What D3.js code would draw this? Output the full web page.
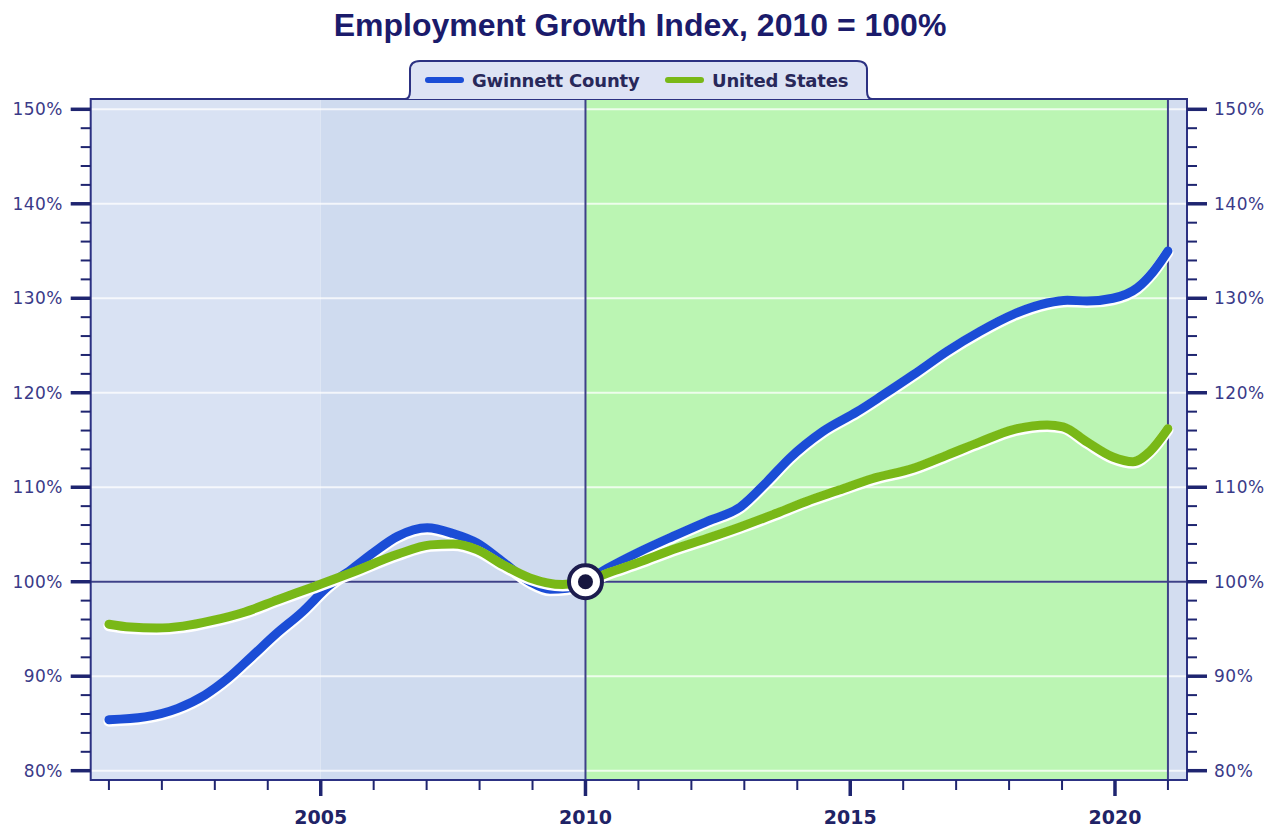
<!DOCTYPE html>
<html>
<head>
<meta charset="utf-8">
<script src="https://cdn.jsdelivr.net/npm/d3@7"></script>
<style>
  html, body { margin: 0; padding: 0; background: #ffffff; }
  svg { display: block; }
</style>
</head>
<body>
<svg id="chart" width="1282" height="831"></svg>
<script>
// Employment index series (2010 = 100)
const gwinnettYears = [2001.0, 2001.68, 2002.3, 2002.81, 2003.25, 2003.7, 2004.14, 2004.65, 2005.14, 2005.6, 2006.0, 2006.45, 2007.01, 2007.5, 2007.95, 2008.44, 2008.95, 2009.33, 2009.65, 2010.0, 2010.41, 2011.03, 2011.65, 2012.3, 2012.92, 2013.43, 2013.86, 2014.48, 2015.13, 2015.6, 2016.19, 2016.83, 2017.45, 2018.08, 2018.72, 2019.1, 2019.47, 2019.96, 2020.42, 2020.72, 2021.0];
const gwinnettValues = [85.4, 85.7, 86.6, 88.0, 89.8, 92.1, 94.4, 96.8, 99.5, 101.4, 103.1, 104.8, 105.7, 105.1, 104.1, 102.1, 100.0, 99.2, 99.3, 100.0, 101.4, 103.2, 104.8, 106.4, 107.9, 110.6, 113.1, 115.9, 118.0, 119.7, 121.9, 124.4, 126.5, 128.3, 129.5, 129.8, 129.7, 130.0, 131.1, 132.8, 135.0];

const usYears = [2001.0, 2001.4, 2001.9, 2002.4, 2002.96, 2003.57, 2004.19, 2004.83, 2005.6, 2006.45, 2007.07, 2007.5, 2007.95, 2008.44, 2008.95, 2009.57, 2010.0, 2010.41, 2011.03, 2011.65, 2012.3, 2012.92, 2013.54, 2014.17, 2014.79, 2015.41, 2016.19, 2016.83, 2017.45, 2018.08, 2018.72, 2019.02, 2019.47, 2019.96, 2020.34, 2020.66, 2021.0];
const usValues = [95.5, 95.2, 95.1, 95.3, 95.9, 96.8, 98.1, 99.4, 101.0, 102.9, 103.9, 104.0, 103.4, 101.8, 100.4, 99.7, 100.0, 100.9, 102.1, 103.4, 104.6, 105.8, 107.1, 108.5, 109.7, 110.9, 112.0, 113.4, 114.8, 116.1, 116.6, 116.4, 114.8, 113.2, 112.7, 113.8, 116.2];

const seriesNames = ["Gwinnett County", "United States"];
const xTickYears = d3.range(2001, 2022);
const xLabelYears = [2005, 2010, 2015, 2020];
const yMajorTicks = [80, 90, 100, 110, 120, 130, 140, 150];
const yMinorTicks = d3.range(80, 151, 2);
const baseYear = 2010, baseValue = 100;

// Background bands: [start, end] in years
const bandStarts = [2000.656, 2005, 2010, 2021];
const bandEnds = [2005, 2010, 2021, 2021.36];

const colors = {
  gwinnett: "#1b4dd6",
  us: "#79b817",
  frame: "#2c3182",
  tick: "#1f2570",
  label: "#3a3a88",
  title: "#1b1b6b",
  bands: ["#d9e2f3", "#cfdbef", "#bbf5b3", "#d3ddf0"]
};

const svg = d3.select("#chart");
const plot = { left: 90.7, right: 1187, top: 99, bottom: 780 };

const x = d3.scaleLinear().domain([2000.656, 2021.36]).range([plot.left, plot.right]);
const y = d3.scaleLinear().domain([80, 150]).range([770.7, 109.3]);

// Title
svg.append("text")
  .attr("x", 640).attr("y", 36)
  .attr("text-anchor", "middle")
  .style("font-family", "'Liberation Sans', Arial, sans-serif")
  .style("font-weight", "bold")
  .style("font-size", "32px")
  .style("fill", colors.title)
  .text("Employment Growth Index, 2010 = 100%");

// Background bands
svg.append("g").selectAll("rect")
  .data(bandStarts.map((s, i) => ({ s, e: bandEnds[i], c: colors.bands[i] })))
  .join("rect")
  .attr("x", d => x(d.s))
  .attr("width", d => x(d.e) - x(d.s))
  .attr("y", plot.top)
  .attr("height", plot.bottom - plot.top)
  .attr("fill", d => d.c);

// Horizontal gridlines
svg.append("g").selectAll("line")
  .data(yMajorTicks)
  .join("line")
  .attr("x1", plot.left).attr("x2", plot.right)
  .attr("y1", d => y(d)).attr("y2", d => y(d))
  .attr("stroke", "#ffffff").attr("stroke-opacity", 0.75).attr("stroke-width", 2);

// Reference lines at 100% and at 2010 / 2021
svg.append("line")
  .attr("x1", plot.left).attr("x2", plot.right)
  .attr("y1", y(baseValue)).attr("y2", y(baseValue))
  .attr("stroke", "#3d4188").attr("stroke-width", 2);
[baseYear, 2021].forEach(yr => {
  svg.append("line")
    .attr("x1", x(yr)).attr("x2", x(yr))
    .attr("y1", plot.top).attr("y2", plot.bottom)
    .attr("stroke", "#3d4188").attr("stroke-width", 2);
});

// Frame
svg.append("rect")
  .attr("x", plot.left).attr("y", plot.top)
  .attr("width", plot.right - plot.left).attr("height", plot.bottom - plot.top)
  .attr("fill", "none").attr("stroke", colors.frame).attr("stroke-width", 2);

// Legend tab sitting on the frame
const tab = { l: 410, r: 867, t: 61, b: plot.top };
const tabPath = d3.path();
tabPath.moveTo(tab.l - 5, tab.b);
tabPath.quadraticCurveTo(tab.l, tab.b, tab.l, tab.b - 8);
tabPath.lineTo(tab.l, tab.t + 9);
tabPath.quadraticCurveTo(tab.l, tab.t, tab.l + 10, tab.t);
tabPath.lineTo(tab.r - 10, tab.t);
tabPath.quadraticCurveTo(tab.r, tab.t, tab.r, tab.t + 9);
tabPath.lineTo(tab.r, tab.b - 8);
tabPath.quadraticCurveTo(tab.r, tab.b, tab.r + 5, tab.b);
svg.append("path")
  .attr("d", tabPath.toString())
  .attr("fill", "#dde3f4")
  .attr("stroke", colors.frame).attr("stroke-width", 2);

const legendItems = [
  { name: seriesNames[0], color: colors.gwinnett, x: 428 },
  { name: seriesNames[1], color: colors.us, x: 668 }
];
const lg = svg.append("g").selectAll("g").data(legendItems).join("g");
lg.append("line")
  .attr("x1", d => d.x).attr("x2", d => d.x + 33)
  .attr("y1", 80).attr("y2", 80)
  .attr("stroke", d => d.color).attr("stroke-width", 6).attr("stroke-linecap", "round");
lg.append("text")
  .attr("x", d => d.x + 44).attr("y", 86.5)
  .style("font-family", "'DejaVu Sans', Verdana, sans-serif")
  .style("font-weight", "bold")
  .style("font-size", "18px")
  .style("letter-spacing", "-0.2px")
  .style("fill", "#28285a")
  .text(d => d.name);

// Y axes (left and right)
const axisFont = "'DejaVu Sans', Verdana, sans-serif";
function yAxis(side) {
  const g = svg.append("g");
  const x0 = side === "left" ? plot.left : plot.right;
  const dir = side === "left" ? -1 : 1;
  g.selectAll("line.minor").data(yMinorTicks).join("line")
    .attr("x1", x0).attr("x2", x0 + dir * 10)
    .attr("y1", d => y(d)).attr("y2", d => y(d))
    .attr("stroke", colors.tick).attr("stroke-width", 2);
  g.selectAll("line.major").data(yMajorTicks).join("line")
    .attr("x1", x0).attr("x2", x0 + dir * 20)
    .attr("y1", d => y(d)).attr("y2", d => y(d))
    .attr("stroke", colors.tick).attr("stroke-width", 3.5);
  g.selectAll("text").data(yMajorTicks).join("text")
    .attr("x", side === "left" ? 63 : 1214)
    .attr("y", d => y(d) + 6)
    .attr("text-anchor", side === "left" ? "end" : "start")
    .style("font-family", axisFont)
    .style("font-size", "17px")
    .style("letter-spacing", "0.5px")
    .style("fill", colors.label)
    .text(d => d + "%");
}
yAxis("left");
yAxis("right");

// X axis
const gx = svg.append("g");
gx.selectAll("line").data(xTickYears).join("line")
  .attr("x1", d => x(d)).attr("x2", d => x(d))
  .attr("y1", plot.bottom)
  .attr("y2", d => plot.bottom + (xLabelYears.includes(d) ? 16 : 10))
  .attr("stroke", colors.tick)
  .attr("stroke-width", d => xLabelYears.includes(d) ? 3.5 : 2);
gx.selectAll("text").data(xLabelYears).join("text")
  .attr("x", d => x(d)).attr("y", 824)
  .attr("text-anchor", "middle")
  .style("font-family", axisFont)
  .style("font-weight", "bold")
  .style("font-size", "19px")
  .style("fill", "#1f2366")
  .text(d => d);

// Series lines with a white halo
const line = d3.line()
  .x(d => x(d[0]))
  .y(d => y(d[1]))
  .curve(d3.curveMonotoneX);

const series = [
  { pts: d3.zip(gwinnettYears, gwinnettValues), color: colors.gwinnett },
  { pts: d3.zip(usYears, usValues), color: colors.us }
];
series.forEach(s => {
  svg.append("path")
    .attr("d", line(s.pts))
    .attr("fill", "none")
    .attr("stroke", "#ffffff")
    .attr("stroke-width", 11)
    .attr("stroke-linecap", "round")
    .attr("transform", "translate(0,1.5)");
  svg.append("path")
    .attr("d", line(s.pts))
    .attr("fill", "none")
    .attr("stroke", s.color)
    .attr("stroke-width", 9)
    .attr("stroke-linecap", "round")
    .attr("stroke-linejoin", "round");
});

// Base-year marker
const mx = x(baseYear), my = y(baseValue);
svg.append("circle").attr("cx", mx).attr("cy", my).attr("r", 16.5)
  .attr("fill", "#ffffff").attr("stroke", "#1c1c4e").attr("stroke-width", 4);
svg.append("circle").attr("cx", mx).attr("cy", my).attr("r", 7.5)
  .attr("fill", "#16163f");
</script>
</body>
</html>
